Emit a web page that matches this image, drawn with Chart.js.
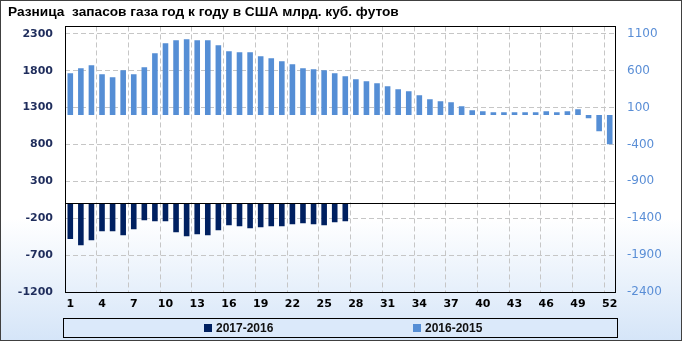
<!DOCTYPE html>
<html>
<head>
<meta charset="utf-8">
<script src="https://cdn.jsdelivr.net/npm/chart.js@4.4.1/dist/chart.umd.min.js"></script>
<style>
    html, body { margin: 0; padding: 0; background: #fff; }
    #wrap { width: 682px; height: 341px; }
</style>
</head>
<body>
<div id="wrap"><canvas id="gasChart" width="682" height="341"></canvas></div>
<script>
// Weeks of the year
const weeks = [1, 2, 3, 4, 5, 6, 7, 8, 9, 10, 11, 12, 13, 14, 15, 16, 17, 18, 19, 20, 21, 22, 23, 24, 25, 26,
    27, 28, 29, 30, 31, 32, 33, 34, 35, 36, 37, 38, 39, 40, 41, 42, 43, 44, 45, 46, 47, 48, 49, 50, 51, 52];

// 2017 vs 2016 (left axis), only first 27 weeks reported
const diff2017_2016 = [-483, -565, -497, -375, -375, -429, -348, -226, -240, -240, -389, -443, -416, -429,
    -362, -294, -307, -335, -321, -307, -307, -280, -267, -280, -294, -253, -240];

// 2016 vs 2015 (right axis)
const diff2016_2015 = [565, 633, 673, 551, 511, 606, 551, 646, 836, 971, 1012, 1026, 1012, 1012, 944, 863,
    850, 850, 795, 768, 728, 687, 633, 619, 606, 565, 524, 484, 457, 430, 389, 348, 321, 267, 213, 186, 172,
    118, 64, 50, 37, 37, 37, 37, 37, 50, 37, 50, 77, -45, -221, -397];

const leftTicks = [-1200, -700, -200, 300, 800, 1300, 1800, 2300];
const rightTicks = [-2400, -1900, -1400, -900, -400, 100, 600, 1100];

const seriesLabels = ['2017-2016', '2016-2015'];
const colors = {
    '2017-2016': '#002060', // navy
    '2016-2015': '#558ed5'  // light blue
};

// background, plot frame, zero line and the boxed legend
const framePlugin = {
    id: 'frame',
    beforeDraw(chart) {
        const { ctx, width, height } = chart;
        const g = ctx.createLinearGradient(0, 0, 0, height);
        g.addColorStop(0, '#ffffff');
        g.addColorStop(0.64, '#ffffff');
        g.addColorStop(1, '#d5e5f8');
        ctx.save();
        ctx.fillStyle = g;
        ctx.fillRect(0, 0, width, height);
        ctx.restore();
    },
    afterDatasetsDraw(chart) {
        const { ctx, chartArea: a, scales } = chart;
        const y0 = Math.round(scales.yLeft.getPixelForValue(0)) + 0.5;
        ctx.save();
        ctx.setLineDash([]);
        ctx.strokeStyle = '#000';
        ctx.lineWidth = 1;
        ctx.beginPath();
        ctx.moveTo(a.left, y0);
        ctx.lineTo(a.right, y0);
        ctx.stroke();
        ctx.strokeRect(Math.round(a.left) + 0.5, Math.round(a.top) + 0.5,
            Math.round(a.right - a.left), Math.round(a.bottom - a.top));
        ctx.restore();
    },
    afterDraw(chart) {
        const { ctx, chartArea: a, width, height } = chart;
        const box = { x: Math.round(a.left) - 2, y: 318, w: Math.round(a.right - a.left) + 4, h: 19 };
        ctx.save();
        ctx.setLineDash([]);
        ctx.fillStyle = '#dbe9fa';
        ctx.fillRect(box.x, box.y, box.w, box.h);
        ctx.strokeStyle = '#000';
        ctx.lineWidth = 1;
        ctx.strokeRect(box.x + 0.5, box.y + 0.5, box.w, box.h);

        // legend entries spread across the box like Excel does
        const spots = [0.255, 0.632];
        ctx.font = 'bold 12px "Liberation Sans"';
        ctx.textBaseline = 'middle';
        chart.data.datasets.forEach((ds, i) => {
            const x = Math.round(box.x + box.w * spots[i]);
            const cy = box.y + box.h / 2;
            ctx.fillStyle = ds.backgroundColor;
            ctx.fillRect(x, Math.round(cy - 4), 8, 8);
            ctx.fillStyle = '#111';
            ctx.fillText(ds.label, x + 12, cy + 1);
        });

        ctx.strokeStyle = '#404040';
        ctx.strokeRect(0.5, 0.5, width - 1, height - 1);
        ctx.restore();
    }
};

const ctx = document.getElementById('gasChart').getContext('2d');
new Chart(ctx, {
    type: 'bar',
    data: {
        labels: weeks,
        datasets: [
            {
                label: seriesLabels[0],
                data: diff2017_2016,
                backgroundColor: colors[seriesLabels[0]],
                yAxisID: 'yLeft',
                grouped: false,
                barPercentage: 0.53,
                categoryPercentage: 1
            },
            {
                label: seriesLabels[1],
                data: diff2016_2015,
                backgroundColor: colors[seriesLabels[1]],
                yAxisID: 'yRight',
                grouped: false,
                barPercentage: 0.53,
                categoryPercentage: 1
            }
        ]
    },
    options: {
        responsive: false,
        animation: false,
        layout: { padding: { left: 8, right: 0, top: 0, bottom: 25 } },
        plugins: {
            legend: { display: false },
            tooltip: { enabled: false },
            title: {
                display: true,
                text: 'Разница  запасов газа год к году в США млрд. куб. футов',
                align: 'start',
                color: '#000',
                font: { family: 'Liberation Sans', size: 13.7, weight: 'bold' },
                padding: { top: 4, bottom: 6 }
            }
        },
        scales: {
            x: {
                grid: {
                    offset: true,
                    drawTicks: false,
                    color: (c) => (c.index > 0 && c.index % 3 === 0) ? '#c6c6c6' : 'rgba(0,0,0,0)'
                },
                border: { display: false, dash: [5, 3] },
                ticks: {
                    autoSkip: false,
                    maxRotation: 0,
                    padding: 6,
                    color: '#000',
                    font: { family: 'DejaVu Sans', size: 11, weight: 'bold' },
                    callback: (v, i) => (i % 3 === 0 ? weeks[i] : '')
                },
                afterFit: (s) => { s.height = 24; }
            },
            yLeft: {
                position: 'left',
                min: -1200,
                max: 2400,
                afterBuildTicks: (s) => { s.ticks = leftTicks.map(v => ({ value: v })); },
                grid: { drawTicks: false, color: '#c6c6c6' },
                border: { display: false, dash: [5, 3] },
                ticks: {
                    padding: 12,
                    color: '#1f2d5c',
                    font: { family: 'DejaVu Sans', size: 11, weight: 'bold' },
                    callback: (v) => String(v)
                },
                afterFit: (s) => { s.width = 57; }
            },
            yRight: {
                position: 'right',
                min: -2400,
                max: 1200,
                afterBuildTicks: (s) => { s.ticks = rightTicks.map(v => ({ value: v })); },
                grid: { display: false, drawTicks: false },
                border: { display: false },
                ticks: {
                    padding: 12,
                    color: '#5a8ed6',
                    font: { family: 'DejaVu Sans', size: 12 },
                    callback: (v) => String(v)
                },
                afterFit: (s) => { s.width = 67; }
            }
        }
    },
    plugins: [framePlugin]
});
</script>
</body>
</html>
